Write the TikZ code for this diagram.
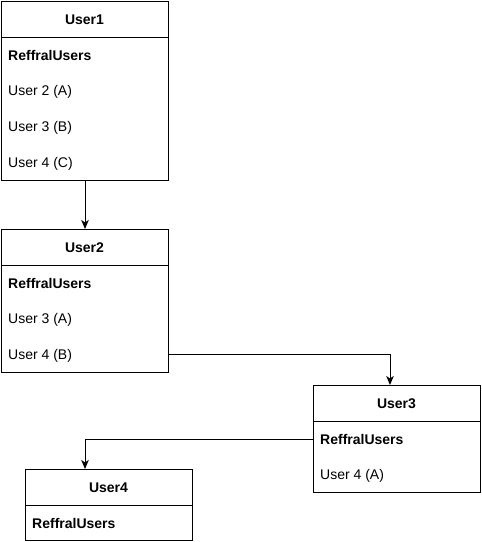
\documentclass[tikz,border=0pt]{standalone}
\usepackage{fontspec}
\setmainfont{Liberation Sans}
\usetikzlibrary{arrows.meta}
\begin{document}
\begin{tikzpicture}[x=1pt,y=-1pt,
  boxshape/.style={draw=black,line width=1pt,anchor=north west,inner sep=0pt},
  title/.style={font=\fontsize{14}{16}\selectfont\bfseries,anchor=center,inner sep=0pt},
  field/.style={font=\fontsize{14}{16}\selectfont,anchor=west,inner sep=0pt},
  hfield/.style={font=\fontsize{14}{16}\selectfont\bfseries,anchor=west,inner sep=0pt},
  conn/.style={draw=black,line width=1pt,-{Stealth[length=9pt,width=7.5pt,inset=2.5pt]}}]
\useasboundingbox (0,0) rectangle (482,542);
% User1
\node[boxshape,minimum width=167,minimum height=179] (u1) at (1,1) {};
\draw[line width=1pt] (1,37) -- (168,37);
\node[title] (u1t) at (84.5,19.5) {User1};
\node[hfield] (u1r0) at (8,55.5) {ReffralUsers};
\node[field] (u1r1) at (8,91.5) {User 2 (A)};
\node[field] (u1r2) at (8,127.5) {User 3 (B)};
\node[field] (u1r3) at (8,163.5) {User 4 (C)};
% User2
\node[boxshape,minimum width=167,minimum height=143] (u2) at (1,229) {};
\draw[line width=1pt] (1,265) -- (168,265);
\node[title] (u2t) at (84.5,247.5) {User2};
\node[hfield] (u2r0) at (8,283.5) {ReffralUsers};
\node[field] (u2r1) at (8,319.5) {User 3 (A)};
\node[field] (u2r2) at (8,355.5) {User 4 (B)};
% User3
\node[boxshape,minimum width=167,minimum height=107] (u3) at (313,385) {};
\draw[line width=1pt] (313,421) -- (480,421);
\node[title] (u3t) at (396.5,403.5) {User3};
\node[hfield] (u3r0) at (320,439.5) {ReffralUsers};
\node[field] (u3r1) at (320,475.5) {User 4 (A)};
% User4
\node[boxshape,minimum width=167,minimum height=71] (u4) at (25,469) {};
\draw[line width=1pt] (25,505) -- (192,505);
\node[title] (u4t) at (108.5,487.5) {User4};
\node[hfield] (u4r0) at (32,523.5) {ReffralUsers};
% connectors
\draw[conn] (u1.south) -- (u2.north);
\draw[conn] (u2.east |- 0,354) -| ([xshift=-7pt]u3.north);
\draw[conn] (u3.west |- 0,439) -| ([xshift=-24pt]u4.north);
\end{tikzpicture}
\end{document}
